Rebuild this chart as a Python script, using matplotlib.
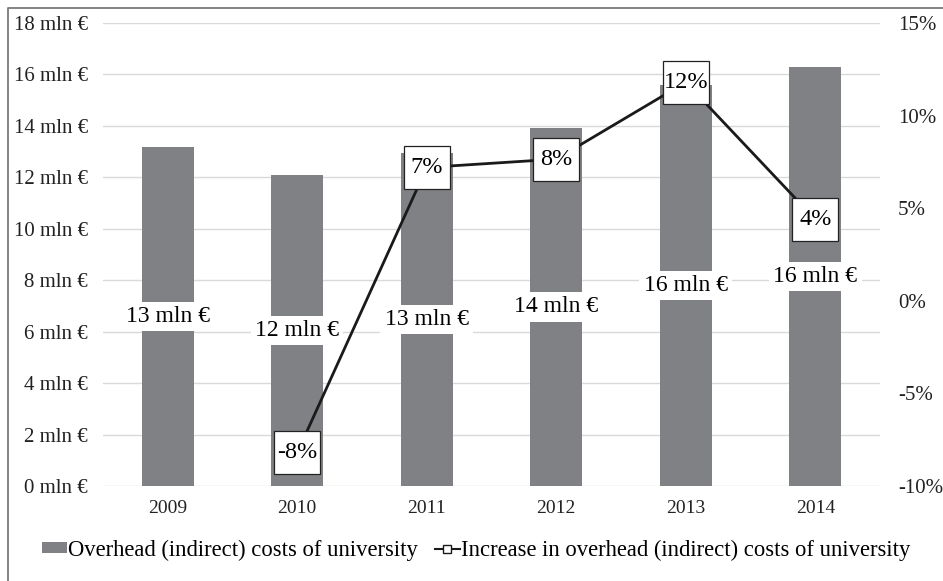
import matplotlib
matplotlib.use("Agg")
import matplotlib.pyplot as plt
import matplotlib.transforms as mtransforms
from matplotlib.patches import Patch, Rectangle
from matplotlib.lines import Line2D

plt.rcParams['font.family'] = ['Liberation Serif', 'DejaVu Serif']

years = ['2009', '2010', '2011', '2012', '2013', '2014']
costs = [13.18, 12.09, 12.95, 13.93, 15.6, 16.3]        # mln €
increase = [None, -8.2, 7.2, 7.65, 11.8, 4.4]             # %

bar_color = '#808184'
grid_color = '#d9d9d9'
line_color = '#1a1a1a'

fig = plt.figure(figsize=(9.43, 5.81), dpi=100)
ax = fig.add_axes([0.1092, 0.1635, 0.8240, 0.7969])
ax2 = ax.twinx()

x = list(range(len(years)))
ax.bar(x, costs, width=0.4, color=bar_color, zorder=2)
for xi, v in zip(x, costs):
    ax.text(xi, v / 2, f"{v:.0f} mln €", ha='center', va='center', fontsize=17,
            zorder=3, bbox=dict(facecolor='white', edgecolor='none', pad=3))

ax.set_ylim(0, 18)
ax.set_yticks(range(0, 19, 2))
ax.set_yticklabels([f"{t} mln €" for t in range(0, 19, 2)])
ax.set_xlim(-0.5, len(years) - 0.5)
ax.set_xticks(x)
ax.set_xticklabels(years)
ax.grid(axis='y', color=grid_color, linewidth=1, zorder=0)
ax.set_axisbelow(True)

# line on the right axis, labels in fixed-size boxes
lx = [xi for xi, p in zip(x, increase) if p is not None]
ly = [p for p in increase if p is not None]
ax2.plot(lx, ly, color=line_color, linewidth=2, zorder=4)
for xi, p in zip(lx, ly):
    trans = fig.dpi_scale_trans + mtransforms.ScaledTranslation(xi, p, ax2.transData)
    ax2.add_patch(Rectangle((-0.23, -0.215), 0.46, 0.43, transform=trans,
                            facecolor='white', edgecolor='#222222', linewidth=0.9,
                            zorder=5, clip_on=False))
    ax2.text(xi, p, f"{p:.0f}%", ha='center', va='center', fontsize=17.5, zorder=6)
ax2.set_ylim(-10, 15)
ax2.set_yticks(range(-10, 16, 5))
ax2.set_yticklabels([f"{t}%" for t in range(-10, 16, 5)])

for a in (ax, ax2):
    for s in a.spines.values():
        s.set_visible(False)
    a.tick_params(length=0, labelsize=15, colors='#222222')
ax.tick_params(axis='y', pad=11)
ax.tick_params(axis='x', pad=10, labelsize=14)
ax2.tick_params(axis='y', pad=13)
ax2.set_zorder(ax.get_zorder() + 1)
ax2.patch.set_visible(False)

handles = [Patch(facecolor=bar_color, edgecolor='none'),
           Line2D([0], [0], color=line_color, linewidth=1.5, marker='s',
                  markerfacecolor='white', markeredgecolor=line_color, markersize=6)]
labels = ['Overhead (indirect) costs of university',
          'Increase in overhead (indirect) costs of university']
fig.legend(handles, labels, loc='center', bbox_to_anchor=(0.505, 0.053), ncol=2,
           frameon=False, fontsize=16.3, handlelength=1.1, handletextpad=0.05,
           columnspacing=0.75, handleheight=0.35)

# frame of the picture: only the left and top edges are visible
fig.add_artist(Line2D([8 / 943, 8 / 943, 1.0], [0.0, 1 - 8 / 581, 1 - 8 / 581],
                      transform=fig.transFigure, color='#7a7a7a', linewidth=1.3))

fig.savefig('out.png', dpi=100)
